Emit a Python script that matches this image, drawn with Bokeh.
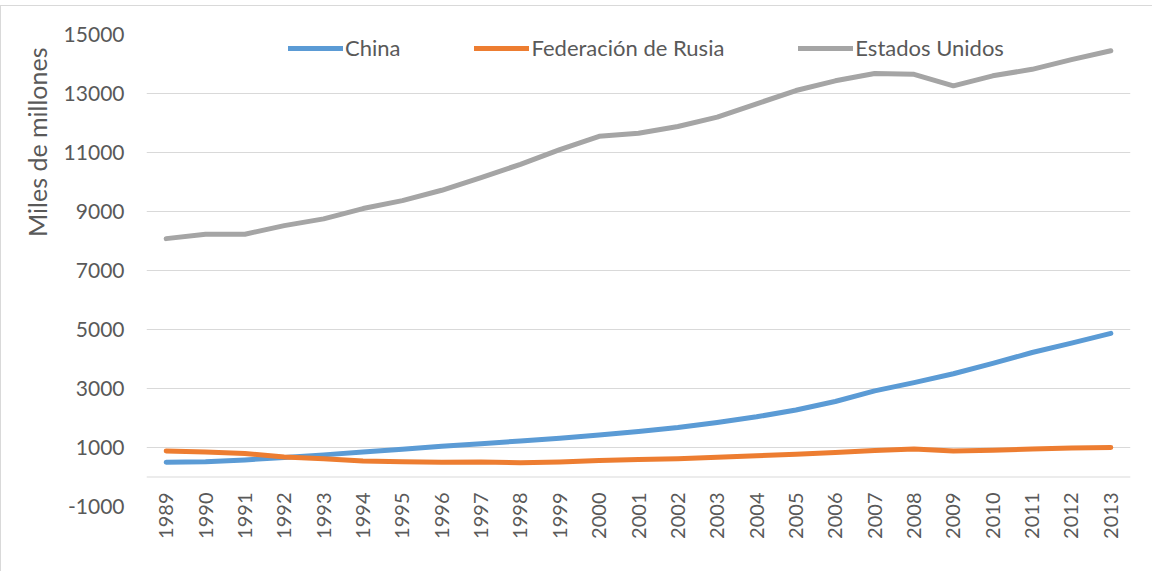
import math
from bokeh.plotting import figure
from bokeh.models import Legend, LegendItem, Title, FixedTicker, Span
from bokeh.embed import file_html
from bokeh.resources import INLINE

years = [str(y) for y in range(1989, 2014)]
china = [500, 520, 580, 660, 750, 850, 940, 1040, 1130, 1220, 1310, 1420, 1540,
         1680, 1850, 2040, 2270, 2560, 2920, 3200, 3500, 3850, 4220, 4540, 4870]
rusia = [880, 850, 800, 680, 620, 540, 520, 500, 510, 480, 510, 560, 590,
         620, 670, 720, 770, 830, 900, 950, 880, 910, 950, 980, 1000]
eeuu = [8080, 8230, 8230, 8520, 8750, 9100, 9370, 9720, 10150, 10600, 11100, 11550, 11650,
        11880, 12200, 12650, 13100, 13430, 13680, 13650, 13260, 13600, 13820, 14150, 14450]
series_names = ["China", "Federación de Rusia", "Estados Unidos"]
y_ticks = list(range(-1000, 15001, 2000))
y_title = "Miles de millones"

FONT = "Lato"
TXT = "#595959"
GRID = "#d9d9d9"

p = figure(x_range=years, y_range=(-1000, 15000), width=1152, height=566,
           output_backend="svg", toolbar_location=None,
           min_border_left=145, min_border_right=23, min_border_top=28, min_border_bottom=66)
p.outline_line_color = None
p.styles = {"margin-top": "5px", "border-left": "1px solid #d9d9d9",
            "border-top": "1px solid #d9d9d9"}

colors = ["#5B9BD5", "#ED7D31", "#A5A5A5"]
renderers = []
for vals, c in zip([china, rusia, eeuu], colors):
    r = p.line(years, vals, line_color=c, line_width=5, line_cap="round", line_join="round")
    renderers.append(r)

p.ygrid.ticker = FixedTicker(ticks=y_ticks)
p.ygrid.grid_line_color = GRID
p.ygrid.grid_line_width = 1
p.xgrid.grid_line_color = None

zero_line = Span(location=0, dimension="width", line_color=GRID, line_width=1, level="underlay")
p.add_layout(zero_line)

p.yaxis.ticker = FixedTicker(ticks=y_ticks)
p.yaxis.major_label_overrides = {t: str(t) for t in y_ticks}
p.yaxis.axis_line_color = None
p.yaxis.major_tick_line_color = None
p.yaxis.minor_tick_line_color = None
p.yaxis.major_tick_out = 0
p.yaxis.major_label_standoff = 22
p.yaxis.major_label_text_font = FONT
p.yaxis.major_label_text_font_size = "21px"
p.yaxis.major_label_text_color = TXT

p.xaxis.axis_line_color = None
p.xaxis.major_tick_line_color = None
p.xaxis.major_tick_out = 0
p.xaxis.major_tick_in = 0
p.xaxis.major_label_orientation = math.pi / 2
p.xaxis.major_label_standoff = -14
p.xaxis.major_label_text_font = FONT
p.xaxis.major_label_text_font_size = "20px"
p.xaxis.major_label_text_color = TXT

legend = Legend(items=[LegendItem(label=n, renderers=[r]) for n, r in zip(series_names, renderers)],
                orientation="horizontal", location=(142, 445),
                glyph_width=55, glyph_height=6, label_standoff=2, spacing=74,
                padding=0, margin=0,
                background_fill_alpha=0, border_line_color=None,
                label_text_font=FONT, label_text_font_size="22px", label_text_color=TXT)
p.add_layout(legend, "center")

p.add_layout(Title(text=y_title, align="right", offset=13, standoff=17,
                   text_font=FONT, text_font_size="25px", text_font_style="normal",
                   text_color=TXT), "left")

open("out.html", "w").write(file_html(p, INLINE))
